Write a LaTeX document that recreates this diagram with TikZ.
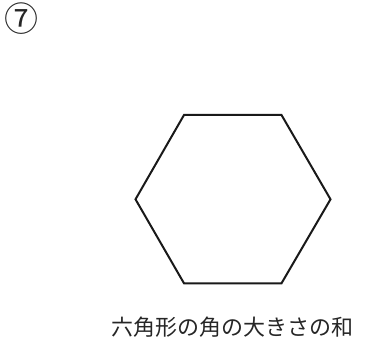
\documentclass[tikz,border=0pt]{standalone}
\usepackage{fontspec}
\newfontfamily\cjk{Noto Sans CJK JP}
\begin{document}
\begin{tikzpicture}[x=1pt,y=-1pt,
  hexline/.style={line width=2pt, line join=miter, black!90},
  lbl/.style={inner sep=0pt, font=\cjk\fontsize{22}{26}\selectfont, text=black!85}]
\useasboundingbox (0,0) rectangle (380,352);
\node[lbl, font=\cjk\fontsize{34}{36}\selectfont] (num) at (22,19) {⑦};
\coordinate (p1) at (184,115);
\coordinate (p2) at (281.5,115);
\coordinate (p3) at (330.5,199.3);
\coordinate (p4) at (281.5,283.3);
\coordinate (p5) at (184,283.3);
\coordinate (p6) at (135.5,199.3);
\draw[hexline] (p1) -- (p2) -- (p3) -- (p4) -- (p5) -- (p6) -- cycle;
\node[lbl] (cap) at (232.5,327) {六角形の角の大きさの和};
\end{tikzpicture}
\end{document}
